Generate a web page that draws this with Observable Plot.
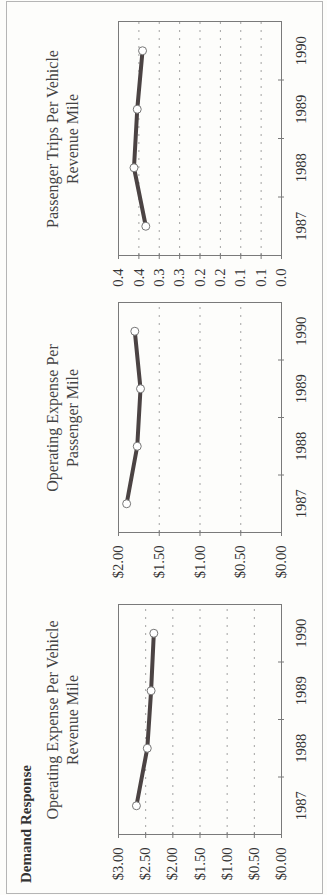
<!DOCTYPE html>
<html><head><meta charset="utf-8">
<script src="https://cdn.jsdelivr.net/npm/d3@7"></script>
<script src="https://cdn.jsdelivr.net/npm/@observablehq/plot@0.6"></script>
<style>
html,body{margin:0;padding:0;background:#fdfdfb;}
#page{position:relative;width:327px;height:895px;overflow:hidden;background:#fdfdfb;}
#land{position:absolute;left:0;top:0;width:895px;height:327px;transform-origin:0 0;transform:translate(0,895px) rotate(-90deg);font-family:"Liberation Serif",serif;color:#333;}
.panel{position:absolute;top:0;}
.title{position:absolute;top:43px;text-align:center;font-size:16px;line-height:20px;color:#444;}
#frame{position:absolute;left:1px;top:6px;width:891px;height:315px;border:1px solid #b5b5b5;}
#head{position:absolute;left:12px;top:19px;font-weight:bold;font-size:15px;line-height:15px;color:#333;}
</style></head><body>
<div id="page"><div id="land"><div id="frame"></div><div id="head">Demand Response</div></div></div>
<script>
const years = [1987, 1988, 1989, 1990];
const costPerVehicleMile = [2.67, 2.47, 2.40, 2.35];
const costPerPassengerMile = [1.90, 1.77, 1.73, 1.80];
const tripsPerVehicleMile = [0.333, 0.362, 0.354, 0.341];

const dollarTicks3 = [0, 0.5, 1, 1.5, 2, 2.5, 3];
const dollarLabels3 = ["$0.00", "$0.50", "$1.00", "$1.50", "$2.00", "$2.50", "$3.00"];
const dollarTicks2 = [0, 0.5, 1, 1.5, 2];
const dollarLabels2 = ["$0.00", "$0.50", "$1.00", "$1.50", "$2.00"];
const tripTicks = [0, 0.05, 0.1, 0.15, 0.2, 0.25, 0.3, 0.35, 0.4];
const tripLabels = ["0.0", "0.1", "0.1", "0.2", "0.2", "0.3", "0.3", "0.4", "0.4"];

const titleVehicleMile = ["Operating Expense Per Vehicle", "Revenue Mile"];
const titlePassengerMile = ["Operating Expense Per", "Passenger Mile"];
const titleTrips = ["Passenger Trips Per Vehicle", "Revenue Mile"];

const land = document.getElementById("land");

function panel(values, ticks, labels, title, left, width, mr) {
  const data = years.map((year, i) => ({year, value: values[i]}));
  const bounds = years.slice(1).map(y => y - 0.5);
  const lab = new Map(ticks.map((t, i) => [t, labels[i]]));
  const ml = 60;
  const chart = Plot.plot({
    width, height: 327,
    marginLeft: ml, marginRight: mr, marginTop: 118, marginBottom: 46,
    style: {fontFamily: "Liberation Serif", fontSize: "14.5px", color: "#333", background: "transparent", overflow: "visible"},
    x: {domain: [years[0] - 0.5, years[years.length - 1] + 0.5]},
    y: {domain: [0, ticks[ticks.length - 1]]},
    marks: [
      Plot.gridY(ticks.slice(1, -1), {stroke: "#999", strokeOpacity: 0.9, strokeDasharray: "2,6"}),
      Plot.frame({stroke: "#7a7a7a"}),
      Plot.axisY(ticks, {tickSize: 3, tickPadding: 10, tickFormat: d => lab.get(d), stroke: "#7a7a7a", label: null}),
      Plot.axisY(ticks, {tickSize: -3, tickFormat: () => "", stroke: "#7a7a7a", label: null}),
      Plot.axisX(bounds, {tickSize: 3, tickFormat: () => "", stroke: "#7a7a7a", label: null}),
      Plot.axisX(bounds, {tickSize: -3, tickFormat: () => "", stroke: "#7a7a7a", label: null}),
      Plot.axisX(years, {tickSize: 0, tickPadding: 14, tickFormat: d => String(d), label: null}),
      Plot.line(data, {x: "year", y: "value", stroke: "#4b4343", strokeWidth: 4}),
      Plot.dot(data, {x: "year", y: "value", r: 4, fill: "white", stroke: "#777", strokeWidth: 1})
    ]
  });
  const wrap = document.createElement("div");
  wrap.className = "panel";
  wrap.style.left = left + "px";
  wrap.appendChild(chart);
  land.appendChild(wrap);
  const t = document.createElement("div");
  t.className = "title";
  t.style.left = (left + ml - 40) + "px";
  t.style.width = (width - ml - mr + 80) + "px";
  t.innerHTML = title.join("<br>");
  land.appendChild(t);
}

panel(costPerVehicleMile, dollarTicks3, dollarLabels3, titleVehicleMile, 0, 300, 10);
panel(costPerPassengerMile, dollarTicks2, dollarLabels2, titlePassengerMile, 302, 300, 10);
panel(tripsPerVehicleMile, tripTicks, tripLabels, titleTrips, 579, 306, 12);
</script>
</body></html>
